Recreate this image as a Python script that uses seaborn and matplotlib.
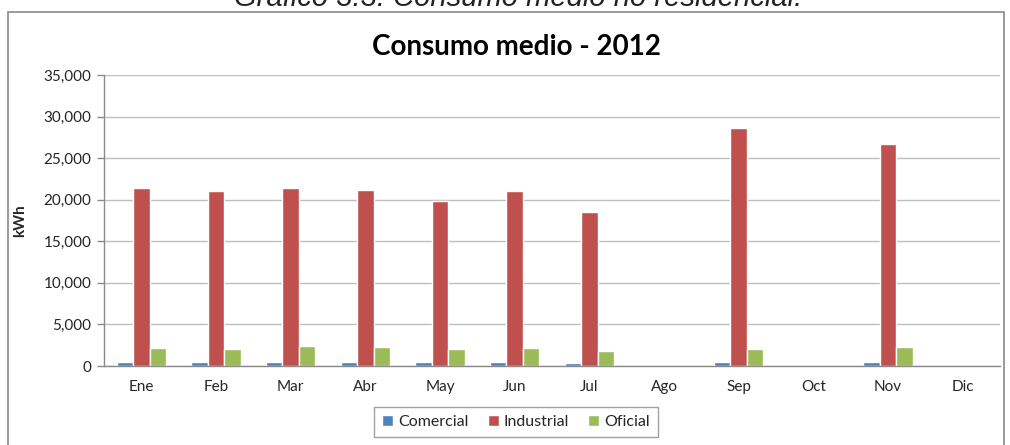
import numpy as np
import pandas as pd
import matplotlib
matplotlib.use("Agg")
import matplotlib.pyplot as plt
from matplotlib.patches import Rectangle
from matplotlib.ticker import FuncFormatter, FixedLocator
import seaborn as sns

# Average monthly consumption (kWh), non-residential sectors, 2012
meses = ["Ene", "Feb", "Mar", "Abr", "May", "Jun", "Jul", "Ago", "Sep", "Oct", "Nov", "Dic"]
comercial = [480, 480, 480, 480, 480, 480, 420, None, 480, None, 480, None]
industrial = [21450, 21000, 21400, 21200, 19900, 21000, 18500, None, 28600, None, 26700, None]
oficial = [2150, 2050, 2370, 2250, 2050, 2180, 1850, None, 2050, None, 2290, None]
sectores = ["Comercial", "Industrial", "Oficial"]
colores = ["#4F81BD", "#C0504D", "#9BBB59"]

df = pd.DataFrame({
    "mes": meses * 3,
    "sector": [s for s in sectores for _ in meses],
    "kwh": comercial + industrial + oficial,
}).astype({"kwh": float})

sns.set_style("white")
plt.rcParams["font.family"] = ["Lato", "DejaVu Sans"]

fig = plt.figure(figsize=(10.10, 4.45), dpi=100)
W, H = 1010, 445
ax = fig.add_axes([104 / W, 1 - 366 / H, (1000 - 104) / W, (366 - 75) / H])

sns.barplot(data=df, x="mes", y="kwh", hue="sector", order=meses,
            hue_order=sectores, palette=colores, width=0.66,
            saturation=1, ax=ax, legend=True)

# chart frame and caption
fig.patches.append(Rectangle((8 / W, -0.01), (1004 - 8) / W, 1 - 12 / H + 0.01,
                             transform=fig.transFigure, fill=False,
                             edgecolor="#8a8a8a", linewidth=1.2))
fig.text(0.513, 1 - 6 / H, "Gráfico 3.3. Consumo medio no residencial.",
         family="Liberation Sans", style="italic", fontsize=21,
         ha="center", va="baseline", color="#222222")
fig.text(516 / W, 1 - 47 / H, "Consumo medio - 2012", fontsize=20,
         fontweight="bold", ha="center", va="center", color="#000000")

ax.set_ylim(0, 35000)
ax.set_xlim(-0.5, 11.5)
ax.yaxis.set_major_locator(FixedLocator(np.arange(0, 35001, 5000)))
ax.yaxis.set_major_formatter(FuncFormatter(lambda v, p: f"{int(v):,}"))
ax.grid(axis="y", color="#bfbfbf", linewidth=1)
ax.set_axisbelow(True)

ax.set_xticks(range(len(meses)))
ax.set_xticklabels(meses)
ax.set_xticks(np.arange(-0.5, 12, 1), minor=True)
ax.tick_params(axis="x", which="major", length=0, pad=10, labelsize=11)
ax.tick_params(axis="x", which="minor", length=5, color="#8a8a8a", width=1)
ax.tick_params(axis="y", which="major", length=5, color="#8a8a8a", width=1,
               left=True, labelsize=11, pad=4)

ax.set_xlabel("")
ax.set_ylabel("kWh", fontsize=11, fontweight="bold", labelpad=12)
for s in ["top", "right"]:
    ax.spines[s].set_visible(False)
for s in ["left", "bottom"]:
    ax.spines[s].set_color("#8a8a8a")
    ax.spines[s].set_linewidth(1)

leg = ax.legend(loc="center", bbox_to_anchor=(516 / W, 1 - 422 / H),
                bbox_transform=fig.transFigure, ncol=3, frameon=True,
                fontsize=11.5, handlelength=0.7, handleheight=0.7,
                handletextpad=0.3, columnspacing=1.2, borderpad=0.5,
                fancybox=False, edgecolor="#8a8a8a")
leg.get_frame().set_linewidth(1)

fig.savefig("out.png", dpi=100)
